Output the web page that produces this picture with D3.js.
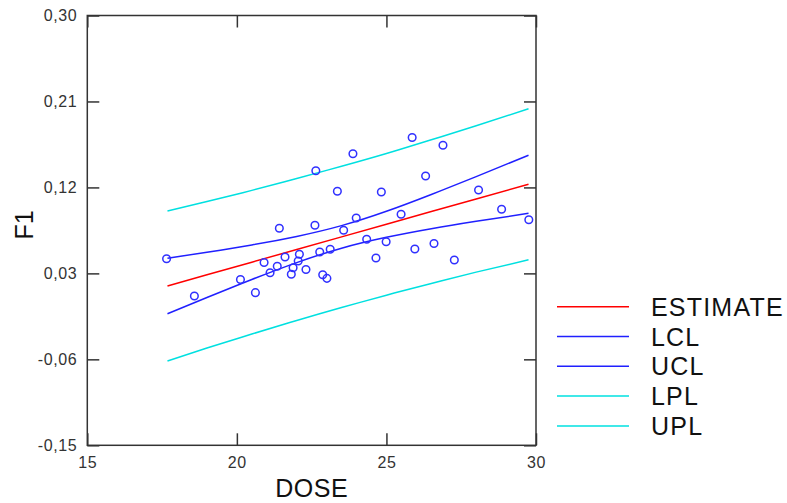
<!DOCTYPE html>
<html>
<head>
<meta charset="utf-8">
<script src="https://cdn.jsdelivr.net/npm/d3@7"></script>
<style>
    body { margin: 0; background: #ffffff; }
    svg text { font-family: "Liberation Sans", Arial, sans-serif; }
</style>
</head>
<body>
<div id="container"></div>
<script>

// observed points (DOSE, F1)
var doseValues = [17.65, 18.58, 20.12, 20.62, 20.91, 21.11, 21.35, 21.42, 21.61, 21.82,
    21.88, 22.05, 22.09, 22.31, 22.61, 22.64, 22.77, 22.87, 23.01, 23.12,
    23.36, 23.57, 23.88, 23.99, 24.34, 24.65, 24.83, 24.99, 25.49, 25.86,
    25.95, 26.31, 26.59, 26.89, 27.27, 28.08, 28.85, 29.76];
var f1Values = [0.0453, 0.0063, 0.0236, 0.0098, 0.0414, 0.0307, 0.0374, 0.0773, 0.0471, 0.0291,
    0.0359, 0.0430, 0.0500, 0.0341, 0.0804, 0.1374, 0.0524, 0.0285, 0.0248, 0.0553,
    0.1160, 0.0752, 0.1552, 0.0880, 0.0658, 0.0461, 0.1152, 0.0631, 0.0919, 0.1723,
    0.0555, 0.1320, 0.0613, 0.1642, 0.0440, 0.1173, 0.0972, 0.0862];

// fitted line and bands, read at a few doses
var bandDose = [17.68, 19, 20.5, 22, 23.5, 25, 26.5, 28, 29.75];
var estimateValues = [0.0168, 0.0285, 0.0417, 0.0550, 0.0682, 0.0814, 0.0947, 0.1079, 0.1233];
var lclValues = [-0.0122, 0.0048, 0.0236, 0.0413, 0.0564, 0.0678, 0.0768, 0.0845, 0.0929];
var uclValues = [0.0458, 0.0522, 0.0598, 0.0687, 0.0800, 0.0950, 0.1126, 0.1313, 0.1537];
var lplValues = [-0.0617, -0.0482, -0.0335, -0.0193, -0.0058, 0.0072, 0.0195, 0.0313, 0.0442];
var uplValues = [0.0953, 0.1052, 0.1169, 0.1293, 0.1422, 0.1556, 0.1699, 0.1845, 0.2024];

// axis ticks
var xTicks = [15, 20, 25, 30];
var yTicks = [-0.15, -0.06, 0.03, 0.12, 0.21, 0.30];

// legend entries
var legendNames = ["ESTIMATE", "LCL", "UCL", "LPL", "UPL"];
var legendColors = ["#ff0000", "#2020ff", "#2020ff", "#00e0e0", "#00e0e0"];

var width = 787, height = 503;
var plotLeft = 87.3, plotRight = 536, plotTop = 15.5, plotBottom = 445.3;

var svg = d3.select("#container").append("svg")
    .attr("width", width)
    .attr("height", height);

var x = d3.scaleLinear().domain([15, 30]).range([plotLeft, plotRight]);
var y = d3.scaleLinear().domain([-0.15, 0.30]).range([plotBottom, plotTop]);

// comma decimals like the original
var commaFormat = d3.formatLocale({
    decimal: ",", thousands: ".", grouping: [3], currency: ["", ""], minus: "-"
}).format(".2f");

// draw an axis with ticks pointing inwards
function drawAxis(axis, tx, ty, showLabels) {
    var g = svg.append("g")
        .attr("transform", "translate(" + tx + "," + ty + ")")
        .call(axis);
    g.select(".domain").remove();
    g.selectAll(".tick line").attr("stroke", "#333").attr("stroke-width", 1.5);
    g.selectAll("text")
        .attr("fill", "#333")
        .style("font-size", "16px")
        .style("letter-spacing", "0.6px")
        .style("display", showLabels ? null : "none");
    return g;
};

drawAxis(d3.axisBottom(x).tickValues(xTicks).tickSize(-12).tickPadding(11)
    .tickFormat(d3.format("d")), 0, plotBottom, true);
drawAxis(d3.axisTop(x).tickValues(xTicks).tickSize(-12), 0, plotTop, false);
drawAxis(d3.axisLeft(y).tickValues(yTicks).tickSize(-12).tickPadding(10)
    .tickFormat(commaFormat), plotLeft, 0, true);
drawAxis(d3.axisRight(y).tickValues(yTicks).tickSize(-12), plotRight, 0, false);

// frame round the plot
svg.append("rect")
    .attr("x", plotLeft)
    .attr("y", plotTop)
    .attr("width", plotRight - plotLeft)
    .attr("height", plotBottom - plotTop)
    .attr("fill", "none")
    .attr("stroke", "#333")
    .attr("stroke-width", 1.5);

// axis titles
svg.append("text")
    .attr("x", (plotLeft + plotRight) / 2)
    .attr("y", 497)
    .attr("text-anchor", "middle")
    .style("font-size", "25px")
    .style("letter-spacing", "0.5px")
    .attr("fill", "#111")
    .text("DOSE");

svg.append("text")
    .attr("transform", "translate(33,225) rotate(-90)")
    .attr("text-anchor", "middle")
    .style("font-size", "25px")
    .attr("fill", "#111")
    .text("F1");

// the fitted lines
var straight = d3.line()
    .x(function(d, i) { return x(bandDose[i]); })
    .y(function(d) { return y(d); });
var curved = d3.line()
    .x(function(d, i) { return x(bandDose[i]); })
    .y(function(d) { return y(d); })
    .curve(d3.curveNatural);

var series = [uplValues, lplValues, uclValues, lclValues];
var seriesColors = ["#00e0e0", "#00e0e0", "#2020ff", "#2020ff"];
series.forEach(function(values, i) {
    svg.append("path")
        .attr("d", curved(values))
        .attr("fill", "none")
        .attr("stroke", seriesColors[i])
        .attr("stroke-width", 1.5);
});

svg.append("path")
    .attr("d", straight(estimateValues))
    .attr("fill", "none")
    .attr("stroke", "#ff0000")
    .attr("stroke-width", 1.5);

// the observations
svg.selectAll(".dot")
    .data(doseValues)
    .enter().append("circle")
    .attr("class", "dot")
    .attr("cx", function(d) { return x(d); })
    .attr("cy", function(d, i) { return y(f1Values[i]); })
    .attr("r", 3.8)
    .attr("fill", "none")
    .attr("stroke", "#3030ff")
    .attr("stroke-width", 1.5);

// legend
var legend = svg.selectAll(".legend")
    .data(legendNames)
    .enter().append("g")
    .attr("class", "legend")
    .attr("transform", function(d, i) { return "translate(0," + (306.7 + i * 29.8) + ")"; });

legend.append("line")
    .attr("x1", 557)
    .attr("x2", 629)
    .attr("stroke", function(d, i) { return legendColors[i]; })
    .attr("stroke-width", 1.5);

legend.append("text")
    .attr("x", 651)
    .attr("y", 9)
    .style("font-size", "25px")
    .style("letter-spacing", "1.2px")
    .attr("fill", "#111")
    .text(function(d) { return d; });

</script>
</body>
</html>
